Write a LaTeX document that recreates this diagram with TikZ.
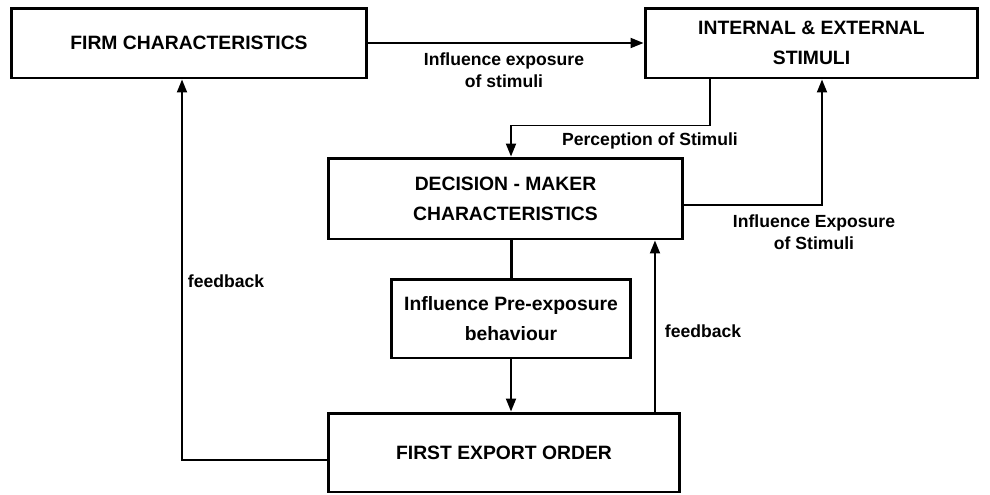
\documentclass[tikz,border=0pt]{standalone}
\usepackage{fontspec}
\setmainfont{Liberation Sans}
\usetikzlibrary{arrows.meta}

\begin{document}
\begin{tikzpicture}[x=0.02cm, y=-0.02cm,
    >={Triangle[length=0.26cm,width=0.2cm]},
    box/.style={draw=black, text=black, shape=rectangle, line width=1.7pt, align=center,
        font=\bfseries\fontsize{11}{17}\selectfont},
    lbl/.style={text=black, align=center, font=\bfseries\fontsize{10}{12.5}\selectfont},
    conn/.style={line width=1.1pt}]
    \useasboundingbox (0,0) rectangle (990,494);

    \node[box, minimum width=7.12cm, minimum height=1.4cm] (firm) at (189,43) {FIRM CHARACTERISTICS};
    \node[box, minimum width=6.66cm, minimum height=1.4cm] (stim) at (811.5,43) {INTERNAL \& EXTERNAL\\STIMULI};
    \node[box, minimum width=7.1cm, minimum height=1.62cm] (dmc) at (505.5,198.5) {DECISION - MAKER\\CHARACTERISTICS};
    \node[box, minimum width=4.8cm, minimum height=1.58cm] (pre) at (511,318.5) {Influence Pre-exposure\\behaviour};
    \node[box, minimum width=7.04cm, minimum height=1.58cm] (feo) at (504,452.5) {FIRST EXPORT ORDER};

    \node[lbl] (lbl_inf) at (504,70) {Influence exposure\\of stimuli};
    \node[lbl] (lbl_perc) at (650,141) {Perception of Stimuli};
    \node[lbl] (lbl_exp) at (814,232) {Influence Exposure\\of Stimuli};
    \node[lbl] (lbl_fbl) at (226,281) {feedback};
    \node[lbl] (lbl_fbr) at (703,331) {feedback};

    \coordinate (fb_r) at ([xshift=3.02cm]feo.north);

    \draw[conn, ->] (firm) -- (stim);
    \draw[conn, ->] ([xshift=1.32cm]stim.south west) -- ++(0,46) -| (pre |- dmc.north);
    \draw[conn, ->] ([yshift=-0.13cm]dmc.east) -| ([xshift=0.21cm]stim.south);
    \draw[line width=1.7pt] (pre |- dmc.south) -- (pre.north);
    \draw[conn, ->] (pre.south) -- (pre |- feo.north);
    \draw[conn, ->] (fb_r) -- (fb_r |- dmc.south);
    \draw[conn, ->] ([yshift=-0.15cm]feo.west) -| ([xshift=-0.14cm]firm.south);
\end{tikzpicture}
\end{document}
